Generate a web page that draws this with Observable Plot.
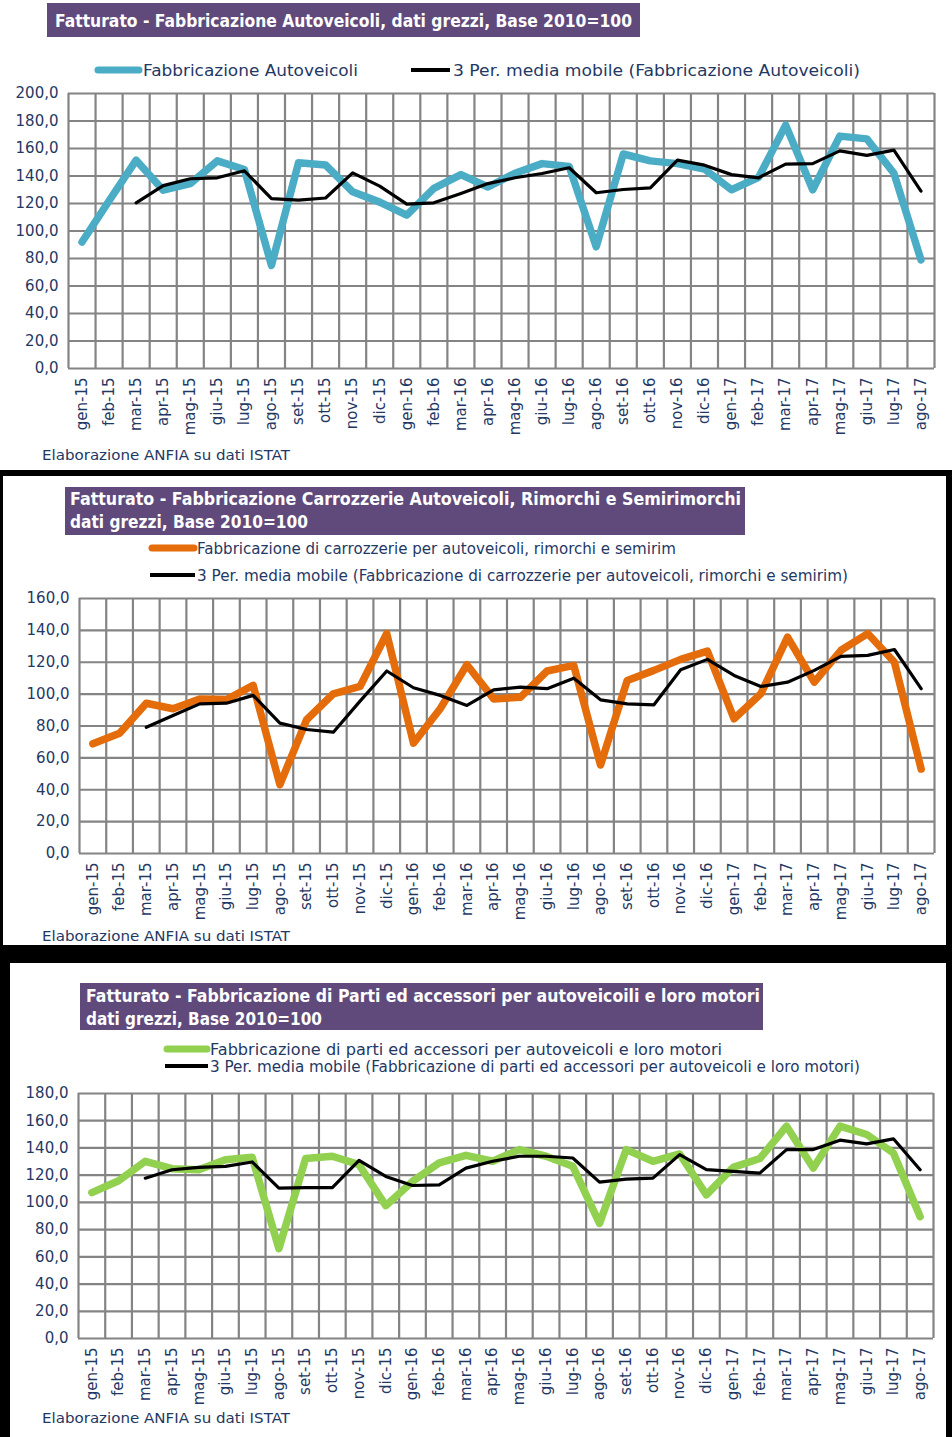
<!DOCTYPE html>
<html>
<head>
<meta charset="utf-8">
<script src="https://cdn.jsdelivr.net/npm/d3@7"></script>
<script src="https://cdn.jsdelivr.net/npm/@observablehq/plot@0.6"></script>
<style>
  body { margin: 0; width: 952px; height: 1437px; position: relative; background: #fff; overflow: hidden; }
  .abs { position: absolute; }
  #overlay text { font-family: "DejaVu Sans", sans-serif; }
</style>
</head>
<body>
<div class="abs" style="left:0;top:470px;width:952px;height:967px;background:#000"></div>
<div class="abs" style="left:3px;top:476px;width:943px;height:469px;background:#fff"></div>
<div class="abs" style="left:10px;top:963px;width:936px;height:474px;background:#fff"></div>
<div id="p1" class="abs" style="left:0;top:0"></div>
<div id="p2" class="abs" style="left:0;top:476px"></div>
<div id="p3" class="abs" style="left:0;top:964px"></div>
<svg id="overlay" class="abs" style="left:0;top:0;pointer-events:none" width="952" height="1437">
  <!-- Panel 1 -->
  <rect x="47" y="3" width="593" height="34" fill="#604a7b"/>
  <text x="55" y="27" textLength="577" lengthAdjust="spacingAndGlyphs" font-size="17" font-weight="bold" fill="#fff">Fatturato - Fabbricazione Autoveicoli, dati grezzi, Base 2010=100</text>
  <line x1="98" x2="139" y1="70" y2="70" stroke="#4bacc6" stroke-width="7" stroke-linecap="round"/>
  <text x="143" y="76" textLength="215" lengthAdjust="spacingAndGlyphs" font-size="16" fill="#1f3864">Fabbricazione Autoveicoli</text>
  <line x1="411" x2="450" y1="70" y2="70" stroke="#000" stroke-width="4"/>
  <text x="453" y="76" textLength="407" lengthAdjust="spacingAndGlyphs" font-size="16" fill="#1f3864">3 Per. media mobile (Fabbricazione Autoveicoli)</text>
  <text x="42" y="460" textLength="248" lengthAdjust="spacingAndGlyphs" font-size="14" fill="#1f3864">Elaborazione ANFIA su dati ISTAT</text>
  <!-- Panel 2 -->
  <rect x="65" y="487" width="680" height="48" fill="#604a7b"/>
  <text x="70" y="505" textLength="671" lengthAdjust="spacingAndGlyphs" font-size="17" font-weight="bold" fill="#fff">Fatturato - Fabbricazione Carrozzerie Autoveicoli, Rimorchi e Semirimorchi</text>
  <text x="70" y="528" textLength="238" lengthAdjust="spacingAndGlyphs" font-size="17" font-weight="bold" fill="#fff">dati grezzi, Base 2010=100</text>
  <line x1="152" x2="194" y1="548" y2="548" stroke="#e46c0a" stroke-width="7" stroke-linecap="round"/>
  <text x="197" y="554" textLength="479" lengthAdjust="spacingAndGlyphs" font-size="15" fill="#1f3864">Fabbricazione di carrozzerie per autoveicoli, rimorchi e semirim</text>
  <line x1="150" x2="195" y1="575" y2="575" stroke="#000" stroke-width="4"/>
  <text x="197" y="581" textLength="651" lengthAdjust="spacingAndGlyphs" font-size="15" fill="#1f3864">3 Per. media mobile (Fabbricazione di carrozzerie per autoveicoli, rimorchi e semirim)</text>
  <text x="42" y="941" textLength="248" lengthAdjust="spacingAndGlyphs" font-size="14" fill="#1f3864">Elaborazione ANFIA su dati ISTAT</text>
  <!-- Panel 3 -->
  <rect x="80" y="983" width="683" height="47" fill="#604a7b"/>
  <text x="86" y="1002" textLength="674" lengthAdjust="spacingAndGlyphs" font-size="17" font-weight="bold" fill="#fff">Fatturato - Fabbricazione di Parti ed accessori per autoveicoili e loro motori</text>
  <text x="86" y="1025" textLength="236" lengthAdjust="spacingAndGlyphs" font-size="17" font-weight="bold" fill="#fff">dati grezzi, Base 2010=100</text>
  <line x1="167" x2="207" y1="1049" y2="1049" stroke="#92d050" stroke-width="7" stroke-linecap="round"/>
  <text x="210" y="1055" textLength="512" lengthAdjust="spacingAndGlyphs" font-size="15" fill="#1f3864">Fabbricazione di parti ed accessori per autoveicoli e loro motori</text>
  <line x1="165" x2="208" y1="1066" y2="1066" stroke="#000" stroke-width="4"/>
  <text x="210" y="1072" textLength="650" lengthAdjust="spacingAndGlyphs" font-size="15" fill="#1f3864">3 Per. media mobile (Fabbricazione di parti ed accessori per autoveicoli e loro motori)</text>
  <text x="42" y="1423" textLength="248" lengthAdjust="spacingAndGlyphs" font-size="14" fill="#1f3864">Elaborazione ANFIA su dati ISTAT</text>
</svg>
<script>
const months = ["gen-15","feb-15","mar-15","apr-15","mag-15","giu-15","lug-15","ago-15","set-15","ott-15","nov-15","dic-15",
  "gen-16","feb-16","mar-16","apr-16","mag-16","giu-16","lug-16","ago-16","set-16","ott-16","nov-16","dic-16",
  "gen-17","feb-17","mar-17","apr-17","mag-17","giu-17","lug-17","ago-17"];

const autoveicoli = [92, 122, 151.5, 129.7, 134.5, 151, 144.7, 75, 149.6, 148, 128.5, 121, 111.5, 131, 141, 132, 142, 149, 147, 88.5, 156, 151, 149, 145, 130, 139, 177, 130, 169, 167, 142, 79];
const autoveicoliMM = [null, null, 120.5, 133, 138, 138.7, 143.8, 123.6, 122.4, 124, 142.3, 132.6, 119.5, 120.5, 127.3, 134.5, 138.7, 141.8, 146, 127.8, 130.2, 131.4, 151.5, 147.9, 141, 138.7, 148.6, 149, 158.3, 155, 158.8, 129];

const carrozzerie = [68.8, 75.5, 94.3, 90.8, 97, 96.6, 105.5, 43.2, 83.9, 100.2, 104.8, 138, 69.2, 90.8, 118.4, 97, 98, 114.5, 118, 55.5, 108.6, 114.9, 121.8, 127, 84.5, 100.2, 135.8, 107.5, 127.5, 138, 120, 53];
const carrozzerieMM = [null, null, 79.2, 86.6, 93.9, 94.3, 99.2, 81.8, 77.8, 76.1, 95.6, 114.5, 104, 99.2, 92.9, 102.7, 104.4, 103.4, 110, 96.4, 93.9, 93.3, 115.3, 121.8, 111.7, 104.8, 107.5, 114.9, 123.7, 124.3, 128, 103.4];

const parti = [107.2, 115.9, 130.2, 124.8, 124, 131.4, 133.1, 66, 132.2, 133.9, 127.7, 97.6, 115.4, 129, 134.6, 130.2, 138.8, 133.9, 126.5, 84.6, 138.8, 130.2, 135.6, 105.5, 125.7, 132.2, 156, 125.2, 156, 149.9, 136.3, 89.5];
const partiMM = [null, null, 117.8, 124, 125.7, 126.5, 129.7, 110.5, 110.9, 110.9, 130.9, 119.1, 112.4, 112.9, 125.2, 130.2, 133.9, 133.9, 132.6, 114.9, 117.1, 117.8, 135.1, 124, 122.8, 121.5, 138.8, 138.8, 145.7, 143, 146.7, 124];

const fmt = d => d.toFixed(1).replace(".", ",");

function chart(el, cfg) {
  const data = months.map((m, i) => ({x: i + 0.5, label: m, v: cfg.values[i], mm: cfg.mm[i]}));
  const yTicks = d3.range(0, cfg.ymax + 1, 20);
  const xBounds = d3.range(0, months.length + 1);
  const xCenters = months.map((m, i) => i + 0.5);
  const p = Plot.plot({
    width: 952,
    height: cfg.height,
    marginTop: cfg.mt, marginBottom: cfg.mb, marginLeft: cfg.ml, marginRight: cfg.mr,
    style: {background: "transparent", fontFamily: "DejaVu Sans, sans-serif", fontSize: "14px", color: "#1f3864", overflow: "visible"},
    x: {domain: [0, months.length], label: null},
    y: {domain: [0, cfg.ymax], label: null},
    marks: [
      Plot.gridY(yTicks, {stroke: "#848484", strokeOpacity: 1, strokeWidth: 2.2}),
      Plot.ruleX(xBounds, {stroke: "#848484", strokeWidth: 2.2}),
      Plot.axisY(yTicks, {tickSize: 0, tickPadding: 10, tickFormat: fmt, fontSize: 15, label: null}),
      Plot.axisX(xCenters, {tickSize: 0, tickPadding: 9, tickRotate: -90, fontSize: 15, label: null,
        tickFormat: d => months[Math.floor(d)]}),
      Plot.lineY(data, {x: "x", y: "v", stroke: cfg.color, strokeWidth: 7.5, strokeLinejoin: "round", strokeLinecap: "round"}),
      Plot.lineY(data, {x: "x", y: "mm", stroke: "#000", strokeWidth: 3.2, strokeLinejoin: "round"})
    ]
  });
  document.getElementById(el).appendChild(p);
}

chart("p1", {values: autoveicoli, mm: autoveicoliMM, color: "#4bacc6", ymax: 200, height: 440, mt: 93, mb: 72, ml: 68, mr: 18});
chart("p2", {values: carrozzerie, mm: carrozzerieMM, color: "#e46c0a", ymax: 160, height: 450, mt: 122, mb: 73, ml: 79, mr: 18});
chart("p3", {values: parti, mm: partiMM, color: "#92d050", ymax: 180, height: 440, mt: 129, mb: 66, ml: 78, mr: 19});
</script>
</body>
</html>
